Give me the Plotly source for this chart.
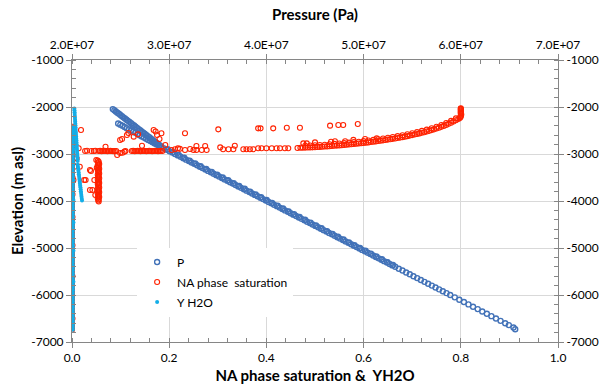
import plotly.graph_objects as go

# ---------------- data ----------------
# Pressure (MPa) vs elevation (m asl): upper branch, lower branch, main line
P_UP_ELEV = [-2045,-2070,-2095,-2120,-2145,-2170,-2195,-2220,-2245,-2270,-2295,-2320,-2345,-2370,-2395,-2420,
             -2445,-2470,-2495,-2520,-2545,-2570,-2595,-2620,-2645,-2670,-2695,-2720,-2745,-2770,-2795,-2820,-2845]
P_UP_MPA = [24.20,24.36,24.51,24.67,24.83,24.98,25.14,25.29,25.45,25.61,25.76,25.92,26.08,26.23,26.39,26.54,
            26.70,26.86,27.01,27.17,27.33,27.48,27.64,27.79,27.95,28.11,28.26,28.42,28.58,28.73,28.89,29.04,29.20]
P_LO_ELEV = [-2350,-2375,-2400,-2425,-2450,-2475,-2500,-2525,-2550,-2575,-2600,-2625,-2650,-2675,-2700,-2725,
             -2750,-2775,-2800,-2825,-2850]
P_LO_MPA = [24.75,24.97,25.19,25.41,25.63,25.86,26.08,26.30,26.52,26.74,26.96,27.18,27.40,27.62,27.84,28.06,
            28.29,28.51,28.73,28.95,29.17]
P_MAIN_ELEV = [-2880,-2910,-2940,-2970,-3000,-3030,-3060,-3090,-3120,-3150,
               -3180,-3210,-3240,-3270,-3300,-3330,-3360,-3390,-3420,-3450,
               -3480,-3510,-3540,-3570,-3600,-3630,-3660,-3690,-3720,-3750,
               -3780,-3810,-3840,-3870,-3900,-3930,-3960,-3990,-4020,-4050,
               -4080,-4110,-4140,-4170,-4200,-4230,-4260,-4290,-4320,-4350,
               -4380,-4410,-4440,-4470,-4500,-4530,-4560,-4590,-4620,-4650,
               -4680,-4710,-4740,-4770,-4800,-4830,-4860,-4890,-4920,-4950,
               -4980,-5010,-5040,-5070,-5100,-5130,-5160,-5190,-5220,-5250,
               -5280,-5310,-5340,-5370,-5400,
               -5440,-5480,-5520,-5560,-5600,-5640,-5680,-5720,-5760,-5800,-5840,-5880,-5920,-5960,-6000,
               -6050,-6100,-6150,-6200,-6250,-6300,-6350,-6400,-6450,-6500,-6550,-6600,-6640,-6690,-6730]
P_MAIN_MPA = [29.47,29.75,30.04,30.32,30.60,30.89,31.17,31.45,31.74,32.02,
              32.30,32.58,32.87,33.15,33.43,33.72,34.00,34.28,34.57,34.85,
              35.13,35.42,35.70,35.98,36.26,36.55,36.83,37.11,37.40,37.68,
              37.96,38.25,38.53,38.81,39.09,39.38,39.66,39.94,40.23,40.51,
              40.79,41.08,41.36,41.64,41.92,42.21,42.49,42.77,43.06,43.34,
              43.62,43.91,44.19,44.47,44.75,45.04,45.32,45.60,45.89,46.17,
              46.45,46.74,47.02,47.30,47.58,47.87,48.15,48.43,48.72,49.00,
              49.28,49.57,49.85,50.13,50.42,50.70,50.98,51.26,51.55,51.83,
              52.11,52.40,52.68,52.96,53.25,
              53.62,54.00,54.38,54.75,55.13,55.51,55.89,56.26,56.64,57.02,57.40,57.77,58.15,58.53,58.91,
              59.38,59.85,60.32,60.79,61.26,61.74,62.21,62.68,63.15,63.62,64.09,64.57,64.94,65.42,65.60]
# second row of cells slightly offset (gives the thicker band in the upper part)
P_ROW2_ELEV = [-2900,-2960,-3020,-3080,-3140,-3200,-3260,-3320,-3380,-3440,-3500,-3560,-3620,-3680,
               -3740,-3800,-3860,-3920,-3980,-4040,-4100,-4160,-4220,-4280,-4340,-4400,-4460,-4520,
               -4580,-4640,-4700,-4760,-4820,-4880,-4940,-5000,-5060,-5120,-5180,-5240,-5300,-5360]
P_ROW2_MPA = [29.85,30.41,30.98,31.55,32.11,32.68,33.24,33.81,34.38,34.94,35.51,36.07,36.64,37.20,
              37.77,38.33,38.90,39.46,40.03,40.59,41.16,41.72,42.29,42.85,43.42,43.98,44.55,45.11,
              45.68,46.24,46.81,47.37,47.94,48.50,49.07,49.63,50.20,50.76,51.33,51.89,52.46,53.02]

# Column of cells at near-zero saturation / Y H2O
ELEV_COL = [-2420,-2480,-2540,-2600,-2660,-2720,-2780,-2840,-2900,-2960,-3020,-3080,-3140,-3200,-3260,-3320,
            -3380,-3440,-3500,-3560,-3620,-3680,-3740,-3800,-3860,-3920,-3980,-4040,-4100,-4160,-4220,-4280,
            -4340,-4400,-4460,-4520,-4580,-4640,-4700,-4760,-4820,-4880,-4940,-5000,-5060,-5120,-5180,-5240,
            -5300,-5360,-5420,-5480,-5540,-5600,-5660,-5720,-5780,-5840,-5900,-5960,-6020,-6080,-6140,-6200,
            -6260,-6320,-6380,-6440,-6500,-6560,-6620,-6680,-6740]
NA_COL = [0.001,0.0,0.0,0.001,0.0,0.0,0.0,0.001,0.0,0.0,0.0,0.0,0.001,0.0,0.0,0.0,
          0.0,0.0,0.001,0.0,0.0,0.0,0.0,0.0,0.001,0.0,0.0,0.0,0.0,0.0,0.0,0.0,
          0.001,0.0,0.0,0.0,0.0,0.0,0.0,0.0,0.0,0.0,0.001,0.0,0.0,0.0,0.0,0.0,
          0.0,0.0,0.0,0.0,0.0,0.001,0.0,0.0,0.0,0.0,0.0,0.0,0.0,0.0,0.0,0.0,
          0.0,0.0,0.0,0.0,0.001,0.0,0.0,0.0,0.0]
Y_COL = [0.002,0.003,0.002,0.002,0.003,0.002,0.002,0.002,0.003,0.002,0.002,0.002,0.002,0.003,0.002,0.002,
         0.002,0.002,0.002,0.003,0.002,0.002,0.002,0.002,0.002,0.002,0.003,0.002,0.002,0.002,0.002,0.002,
         0.002,0.002,0.003,0.002,0.002,0.002,0.002,0.002,0.002,0.002,0.002,0.002,0.003,0.002,0.002,0.002,
         0.002,0.002,0.002,0.002,0.002,0.002,0.002,0.003,0.002,0.002,0.002,0.002,0.002,0.002,0.002,0.002,
         0.002,0.002,0.002,0.002,0.002,0.002,0.002,0.002,0.002]

# Y H2O diagonal (two segments)
Y_DIAG_ELEV = [-2030,-2070,-2110,-2150,-2190,-2230,-2270,-2310,-2350,-2390,-2430,-2470,-2510,-2550,-2590,
               -2630,-2670,-2710,-2750,-2790,-2830,-2870,-2910,-2950,-2990,-3030,-3070,-3110,-3150,
               -3230,-3270,-3310,-3350,-3390,-3430,-3470,-3510,-3550,-3590,-3630,-3670,-3710,-3750,
               -3790,-3830,-3870,-3910,-3950,-3990]
Y_DIAG = [0.0048,0.0050,0.0053,0.0055,0.0058,0.0060,0.0063,0.0065,0.0068,0.0070,0.0072,0.0075,0.0077,0.0080,0.0082,
          0.0085,0.0087,0.0090,0.0092,0.0095,0.0097,0.0100,0.0102,0.0104,0.0107,0.0109,0.0112,0.0114,0.0117,
          0.0117,0.0122,0.0126,0.0131,0.0136,0.0140,0.0145,0.0150,0.0154,0.0159,0.0164,0.0168,0.0173,0.0178,
          0.0182,0.0187,0.0192,0.0196,0.0201,0.0206]

# NA phase saturation: scattered points near the left
NA_SCAT_SAT = [0.0185,0.0137,0.0095,0.005,0.016,0.025,0.028,0.037,0.039,0.046,0.037,0.042,0.048,0.051,0.050,0.003]
NA_SCAT_ELEV = [-2489,-2879,-3092,-3270,-3270,-3553,-3553,-3340,-3362,-3553,-3766,-3766,-3872,-3291,-3128,-3553]

# NA band near -2936 m
NA_BAND_SAT = [0.027,0.031,0.040,0.045,0.048,
               0.055,0.058,0.061,0.064,0.067,0.070,0.073,0.076,0.079,0.082,0.085,0.088,0.091,
               0.069,0.093,0.099,0.104,0.108,0.110,
               0.099,0.113,0.116,0.103,
               0.123,0.126,0.129,0.132,0.135,0.138,0.141,0.144,0.147,0.150,0.153,
               0.156,0.159,0.162,0.165,0.168,0.171,0.174,0.177,0.180,0.183,0.186,
               0.127,0.136,0.144,0.168,0.175,0.184,0.192,0.180,0.172]
NA_BAND_ELEV = [-2936,-2930,-2936,-2936,-2930,
                -2936,-2932,-2940,-2936,-2930,-2936,-2940,-2936,-2932,-2936,-2940,-2936,-2936,
                -2845,-3021,-2980,-2972,-2950,-2936,
                -2702,-2596,-2553,-2681,
                -2936,-2932,-2940,-2936,-2930,-2936,-2940,-2936,-2932,-2936,-2940,
                -2936,-2930,-2936,-2940,-2936,-2932,-2936,-2940,-2936,-2930,-2936,
                -2631,-2582,-2823,-2489,-2596,-2560,-2809,-2681,-2520]

# NA points between 0.2 and 0.47
NA_MID_SAT = [0.205,0.212,0.218,0.222,0.2325,0.2325,0.243,0.250,0.256,0.256,0.267,0.274,0.277,0.301,
              0.305,0.311,0.322,0.332,0.335,0.3525,0.359,0.366,0.373,0.383,0.390,0.400,0.411,0.421,
              0.428,0.438,0.445,0.383,0.388,0.414,0.442,0.469,0.464,
              0.476,0.483,0.500,0.531,0.548,0.558,0.588,0.533,0.541,0.562,0.579,0.603,0.627]
NA_MID_ELEV = [-2915,-2900,-2880,-2890,-2560,-2915,-2894,-2915,-2830,-2915,-2915,-2830,-2915,-2475,
               -2858,-2900,-2900,-2900,-2823,-2900,-2900,-2900,-2900,-2879,-2879,-2879,-2879,-2879,
               -2879,-2879,-2879,-2454,-2454,-2454,-2440,-2440,-2872,
               -2773,-2773,-2752,-2397,-2383,-2383,-2362,-2738,-2730,-2730,-2700,-2680,-2667]

# NA dense rising curve to 0.8
NA_CURVE_SAT = [0.470,0.475,0.480,0.485,0.490,0.495,0.500,0.505,0.510,0.515,
                0.520,0.525,0.530,0.535,0.540,0.545,0.550,0.555,0.560,0.565,
                0.570,0.575,0.580,0.585,0.590,0.595,0.600,0.605,0.610,0.615,
                0.620,0.625,0.630,0.635,0.640,0.645,0.650,0.655,0.660,0.665,
                0.670,0.675,0.680,0.685,0.690,0.695,0.700,0.705,0.710,0.715,
                0.720,0.725,0.730,0.735,0.740,0.745,0.750,0.755,0.760,0.765,
                0.770,0.775,0.780,0.785,0.790,0.795,0.798,
                0.48,0.49,0.50,0.51,0.52,0.53,0.54,0.55,0.56,0.57,0.58,0.59,0.60,0.61,0.62,0.63,
                0.64,0.65,0.66,0.67,0.68,0.69,0.70,0.71,0.72,0.73,0.74,0.75,0.76,0.77,0.78,0.79,
                0.799,0.800,0.800,0.801,0.800,0.800,0.800,0.800,0.800,0.800,0.800]
NA_CURVE_ELEV = [-2868,-2866,-2864,-2862,-2860,-2858,-2855,-2852,-2849,-2846,
                 -2842,-2838,-2834,-2830,-2825,-2821,-2817,-2813,-2808,-2803,
                 -2798,-2793,-2788,-2783,-2778,-2772,-2766,-2760,-2753,-2746,
                 -2739,-2732,-2725,-2718,-2710,-2702,-2694,-2686,-2678,-2669,
                 -2660,-2651,-2641,-2631,-2620,-2609,-2598,-2586,-2574,-2562,
                 -2549,-2536,-2522,-2507,-2492,-2476,-2459,-2441,-2422,-2402,
                 -2381,-2359,-2335,-2310,-2283,-2255,-2235,
                 -2824,-2820,-2815,-2809,-2802,-2794,-2785,-2777,-2768,-2758,-2748,-2738,-2726,-2713,-2699,-2685,
                 -2670,-2654,-2638,-2620,-2601,-2580,-2558,-2534,-2509,-2482,-2452,-2419,-2382,-2341,-2295,-2243,
                 -2220,-2200,-2180,-2160,-2140,-2120,-2100,-2080,-2060,-2040,-2025]

# NA vertical cluster near 0.054
NA_CLUSTER_SAT = [0.053,0.055,0.054,0.056,0.053,0.055,0.054,0.056,0.053,0.055,0.054,0.056,
                  0.053,0.055,0.054,0.056,0.053,0.055,0.054,0.056,0.053,0.055,0.054,0.056,
                  0.053,0.055,0.054,0.056,0.053,0.055,0.054,0.056,0.053,0.055,0.054,0.055]
NA_CLUSTER_ELEV = [-3140,-3165,-3190,-3215,-3240,-3265,-3290,-3315,-3340,-3365,-3390,-3415,
                   -3440,-3465,-3490,-3515,-3540,-3565,-3590,-3615,-3640,-3665,-3690,-3715,
                   -3740,-3765,-3790,-3815,-3840,-3865,-3890,-3915,-3940,-3965,-3990,-4010]

# Axis ticks
ELEV_TICKS = [-7000, -6000, -5000, -4000, -3000, -2000, -1000]
ELEV_LABELS = ["-7000", "-6000", "-5000", "-4000", "-3000", "-2000", "-1000"]
SAT_TICKS = [0.0, 0.2, 0.4, 0.6, 0.8, 1.0]
SAT_LABELS = ["0.0", "0.2", "0.4", "0.6", "0.8", "1.0"]
PRESS_TICKS = [2e7, 3e7, 4e7, 5e7, 6e7, 7e7]
PRESS_LABELS = ["2.0E+07", "3.0E+07", "4.0E+07", "5.0E+07", "6.0E+07", "7.0E+07"]

# ---------------- assemble ----------------
P_ELEV = P_UP_ELEV + P_LO_ELEV + P_MAIN_ELEV + P_ROW2_ELEV
P_PA = [v * 1e6 for v in (P_UP_MPA + P_LO_MPA + P_MAIN_MPA + P_ROW2_MPA)]
NA_SAT = NA_COL + NA_SCAT_SAT + NA_BAND_SAT + NA_MID_SAT + NA_CURVE_SAT + NA_CLUSTER_SAT
NA_ELEV = ELEV_COL + NA_SCAT_ELEV + NA_BAND_ELEV + NA_MID_ELEV + NA_CURVE_ELEV + NA_CLUSTER_ELEV
Y_SAT = Y_COL + Y_DIAG
Y_ELEV = ELEV_COL + Y_DIAG_ELEV
assert len(P_ELEV) == len(P_PA)
assert len(NA_SAT) == len(NA_ELEV)
assert len(Y_SAT) == len(Y_ELEV)

BLUE = "#4272b8"
RED = "#ff2200"
CYAN = "#13aee8"
FONT = "Lato"
AXC = "#868686"
GRID = "#d9d9d9"

fig = go.Figure()
fig.add_trace(go.Scatter(x=P_PA, y=P_ELEV, mode="markers", name="P", xaxis="x", yaxis="y",
                         legendgroup="a",
                         marker=dict(symbol="circle-open", size=5, color=BLUE, line=dict(width=1.4))))
fig.add_trace(go.Scatter(x=NA_SAT, y=NA_ELEV, mode="markers", name="NA phase\u00a0 saturation",
                         xaxis="x2", yaxis="y", legendgroup="b",
                         marker=dict(symbol="circle-open", size=5, color=RED, line=dict(width=1.1))))
fig.add_trace(go.Scatter(x=Y_SAT, y=Y_ELEV, mode="markers", name="Y H2O", xaxis="x2", yaxis="y",
                         legendgroup="c",
                         marker=dict(symbol="circle", size=4, color=CYAN)))
# invisible companion so the right-hand axis is drawn
fig.add_trace(go.Scatter(x=Y_SAT, y=Y_ELEV, mode="markers", xaxis="x2", yaxis="y2", showlegend=False,
                         hoverinfo="skip", marker=dict(opacity=0, size=1)))

tickfont = dict(family=FONT, size=12, color="#000000")
titlefont = dict(family=FONT, size=15, color="#000000")

def minor(t0, d):
    return dict(tickmode="linear", tick0=t0, dtick=d, ticks="inside", ticklen=4,
                tickcolor=AXC, showgrid=False)

fig.update_layout(
    width=602, height=387,
    margin=dict(l=72, r=44, t=60, b=45, autoexpand=False),
    paper_bgcolor="white", plot_bgcolor="white",
    font=dict(family=FONT, size=12, color="#000000"),
    xaxis=dict(side="top", anchor="y", range=[2e7, 7e7], tickmode="array", automargin=False,
               tickvals=PRESS_TICKS, ticktext=PRESS_LABELS, tickfont=tickfont,
               showline=True, linecolor=AXC, linewidth=1, ticks="outside", ticklen=5, tickcolor=AXC,
               showgrid=True, gridcolor=GRID, gridwidth=1, zeroline=False,
               minor=minor(2e7, 2e6),
               title=dict(text="<b>Pressure (Pa)</b>", font=titlefont, standoff=12)),
    xaxis2=dict(overlaying="x", side="bottom", anchor="y", range=[0, 1], tickmode="array",
                automargin=False,
                tickvals=SAT_TICKS, ticktext=SAT_LABELS, tickfont=tickfont,
                showline=True, linecolor=AXC, linewidth=1, ticks="outside", ticklen=5, tickcolor=AXC,
                showgrid=False, zeroline=False,
                minor=minor(0, 0.04),
                title=dict(text="<b>NA phase saturation &\u00a0 YH2O</b>", font=titlefont, standoff=6)),
    yaxis=dict(range=[-7000, -1000], tickmode="array", tickvals=ELEV_TICKS, ticktext=ELEV_LABELS,
               automargin=False,
               tickfont=tickfont, showline=True, linecolor=AXC, linewidth=1, ticks="outside",
               ticklen=5, tickcolor=AXC, showgrid=True, gridcolor=GRID, gridwidth=1, zeroline=False,
               minor=minor(-7000, 200),
               title=dict(text="<b>Elevation (m asl)</b>", font=titlefont, standoff=4)),
    yaxis2=dict(overlaying="y", side="right", anchor="x2", range=[-7000, -1000], tickmode="array",
                automargin=False,
                tickvals=ELEV_TICKS, ticktext=ELEV_LABELS, tickfont=tickfont,
                showline=True, linecolor=AXC, linewidth=1, ticks="outside", ticklen=5, tickcolor=AXC,
                showgrid=False, zeroline=False, minor=minor(-7000, 200)),
    showlegend=True,
    legend=dict(x=0.134, y=0.335, xanchor="left", yanchor="top", bgcolor="white",
                font=dict(family=FONT, size=12, color="#000000"), tracegroupgap=1,
                borderwidth=0),
)

fig.write_html("out.html")
